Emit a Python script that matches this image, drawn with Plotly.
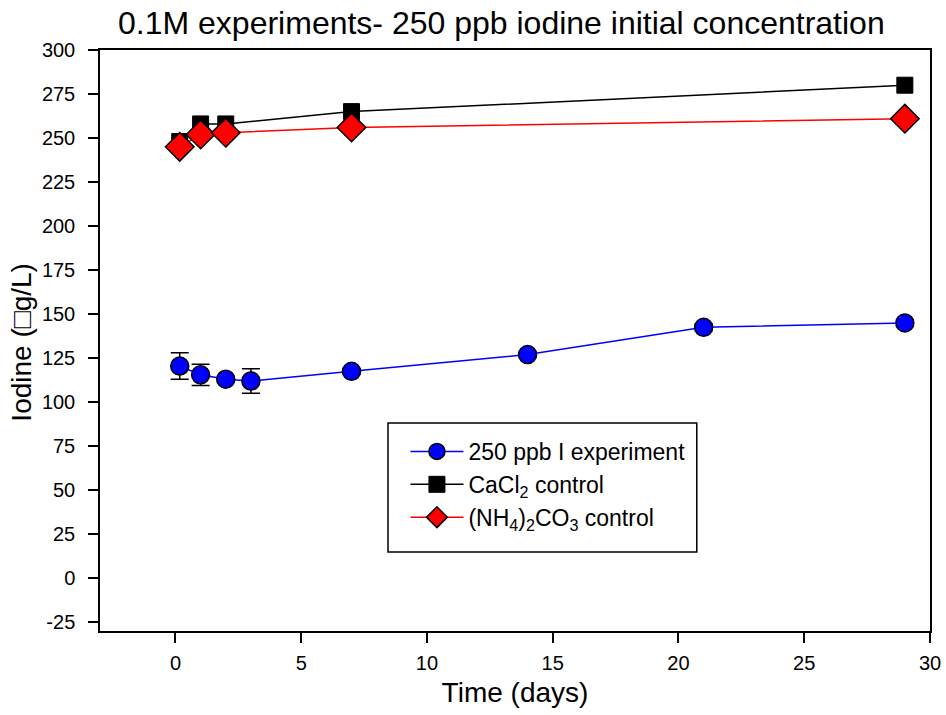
import plotly.graph_objects as go

exp_x = [0.17, 1, 2, 3, 7, 14, 21, 29]
exp_y = [120.5, 115.5, 113, 112, 117.5, 127, 142.5, 145]
exp_err = [7.5, 6, 1.5, 7, 1.5, 1.5, 2, 1.5]

cacl_x = [0.17, 1, 2, 7, 29]
cacl_y = [248, 258, 258, 265, 280]

nh4_x = [0.17, 1, 2, 7, 29]
nh4_y = [245, 252, 253, 256, 261]

y_ticks = [-25, 0, 25, 50, 75, 100, 125, 150, 175, 200, 225, 250, 275, 300]
y_tick_labels = ["-25", "0", "25", "50", "75", "100", "125", "150", "175", "200", "225", "250", "275", "300"]
x_ticks = [0, 5, 10, 15, 20, 25, 30]

font = "Liberation Sans, Arial, sans-serif"

fig = go.Figure()
fig.add_trace(go.Scatter(
    x=exp_x, y=exp_y, mode="lines+markers", name="250 ppb I experiment",
    line=dict(color="blue", width=1.5),
    marker=dict(symbol="circle", size=18, color="blue", line=dict(color="black", width=1.5)),
    error_y=dict(type="data", array=exp_err, color="black", thickness=1.5, width=9),
))
fig.add_trace(go.Scatter(
    x=cacl_x, y=cacl_y, mode="lines+markers", name="CaCl<sub>2</sub> control",
    line=dict(color="black", width=1.5),
    marker=dict(symbol="square", size=16, color="black", line=dict(color="black", width=1)),
))
fig.add_trace(go.Scatter(
    x=nh4_x, y=nh4_y, mode="lines+markers", name="(NH<sub>4</sub>)<sub>2</sub>CO<sub>3</sub> control",
    line=dict(color="red", width=1.5),
    marker=dict(symbol="diamond", size=22, color="red", line=dict(color="black", width=1.5)),
))

# legend frame
fig.add_shape(type="rect", xref="paper", yref="paper",
              x0=0.347, x1=0.719, y0=0.136, y1=0.358,
              line=dict(color="black", width=1.5), fillcolor="white", layer="below")

# y-axis title
fig.add_annotation(text="Iodine (\u25a1g/L)", xref="paper", yref="paper",
                   x=-0.094, y=0.498, xanchor="center", yanchor="middle",
                   textangle=-90, showarrow=False, font=dict(size=28, family=font))

fig.update_layout(
    width=946, height=715,
    paper_bgcolor="white", plot_bgcolor="white",
    margin=dict(l=100, r=16, t=50, b=84),
    font=dict(family=font, size=20, color="black"),
    title=dict(text="0.1M experiments- 250 ppb iodine initial concentration",
               x=0.53, xanchor="center", y=0.968, yanchor="middle",
               font=dict(size=32, family=font)),
    xaxis=dict(range=[-3, 30], tickvals=x_ticks, automargin=False,
               showgrid=False, zeroline=False, showline=True, linecolor="black", linewidth=1.5,
               mirror=True, ticks="outside", ticklen=10, tickwidth=1.5, tickcolor="black",
               tickfont=dict(size=20), ticklabelstandoff=3,
               title=dict(text="Time (days)", font=dict(size=28), standoff=10)),
    yaxis=dict(range=[-30, 300], tickvals=y_ticks, ticktext=y_tick_labels, automargin=False,
               showgrid=False, zeroline=False, showline=True, linecolor="black", linewidth=1.5,
               mirror=True, ticks="outside", ticklen=10, tickwidth=1.5, tickcolor="black",
               tickfont=dict(size=20), ticklabelstandoff=9),
    legend=dict(x=0.368, y=0.346, xanchor="left", yanchor="top",
                borderwidth=0, bgcolor="rgba(0,0,0,0)",
                font=dict(size=23), tracegroupgap=0, itemwidth=53,
                traceorder="normal"),
    showlegend=True,
)

fig.write_html("out.html", config={"displayModeBar": False},
               post_script="document.body.style.margin='0px';")
